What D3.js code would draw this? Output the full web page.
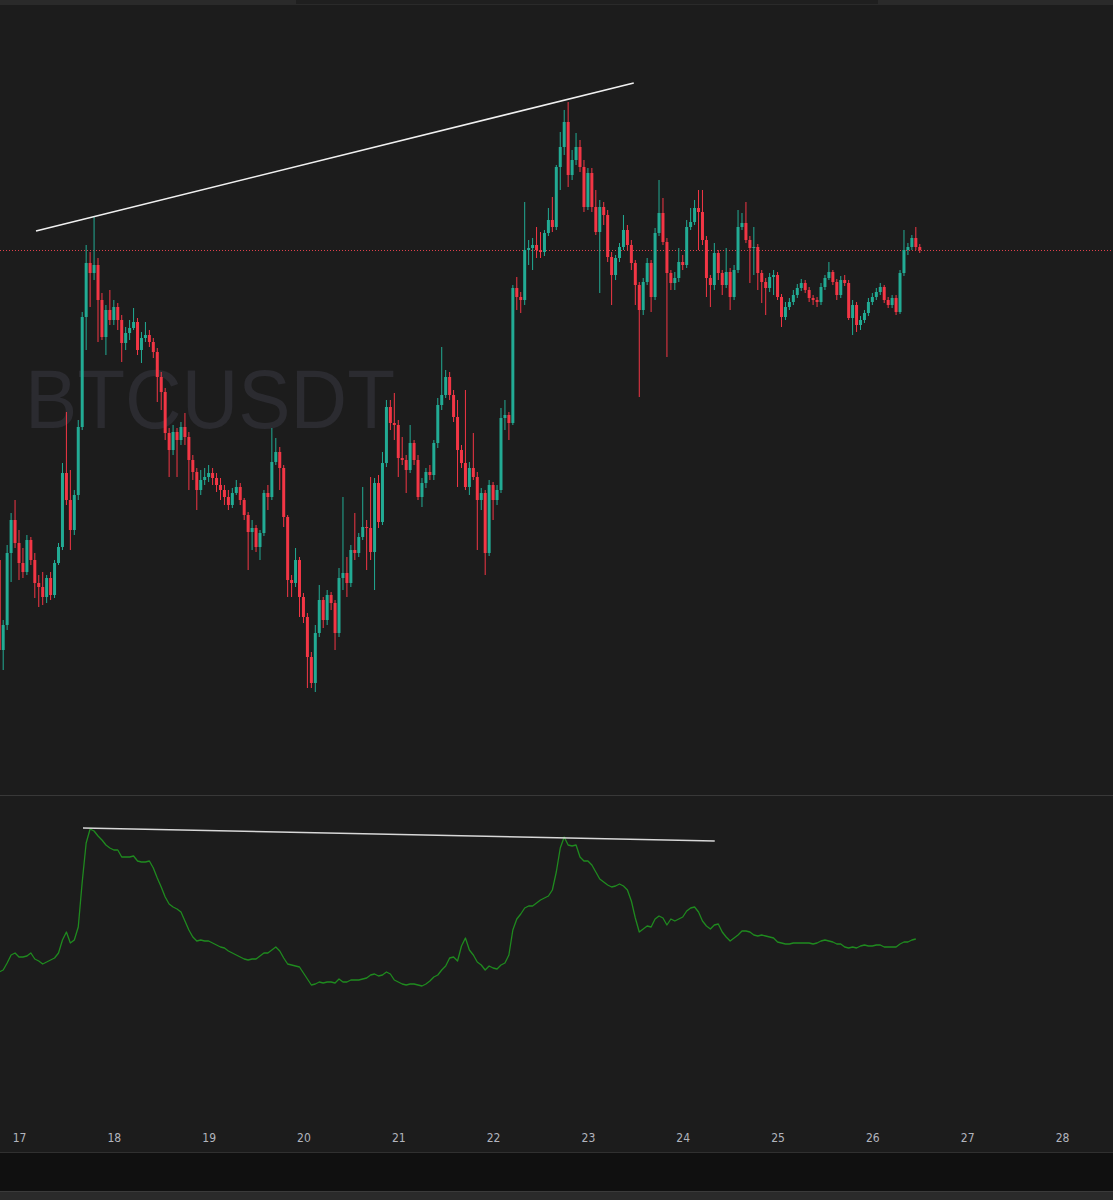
<!DOCTYPE html>
<html><head><meta charset="utf-8">
<script src="https://cdn.jsdelivr.net/npm/d3@7"></script>
<style>html,body{margin:0;padding:0;background:#1c1c1c;overflow:hidden}</style>
</head><body><svg id="c" width="1113" height="1200"></svg>
<script>
// ---------- DATA (hourly BTCUSDT candles, first bar 16th 19:00) ----------
const symbol = "BTCUSDT";
const firstBarTime = "2024-03-16T19:00:00Z";
const firstOpen = 64400;
const closes = [
63500,63750,64470,64800,64570,64370,64280,64600,64400,64170,
64130,64030,64220,64050,64370,64530,65270,65000,64700,65050,
65730,66830,67370,67270,67350,67000,66630,66900,66800,66930,
66800,66570,66670,66720,66780,66500,66620,66650,66580,66480,
66230,66080,65670,65500,65680,65600,65730,65630,65400,65280,
65100,65200,65230,65270,65220,65150,65100,65030,
64950,65070,65130,65000,64850,64680,64720,64530,64670,65070,
65030,65380,65480,65320,64830,64200,64170,64400,64030,63830,
63430,63170,63670,64000,63800,64050,63970,63670,64220,64270,
64170,64500,64470,64630,64730,64720,64480,65170,64780,65370,
65930,65770,65750,65420,65400,65300,65570,65400,65030,65170,
65280,65250,65570,65950,66050,66230,66050,65830,65500,65370,
65130,65320,65230,65000,65070,64470,65150,65000,65100,65820,
65850,65770,67120,67030,67000,67500,67520,67550,67500,67480,
67670,67800,67730,68330,68530,68780,68250,68400,68530,68330,
67930,68270,67930,67680,67930,67850,67430,67250,67420,67530,
67700,67550,67370,67150,66900,67180,67370,67030,67670,67870,
67580,67270,67170,67220,67380,67350,67730,67780,67920,67880,
67600,67220,67150,67470,67270,67150,67280,67030,67300,67730,
67770,67600,67520,67530,67270,67180,67120,67230,67250,67030,
66830,66930,66980,67050,67120,67170,67100,67020,67000,66980,
67130,67220,67280,67180,67050,67200,67170,66820,66950,66750,
66800,66870,66980,67030,67080,67130,67000,66950,67020,66880,
67270,67500,67530,67620,67530,67500];
const highs = [
64520,63800,64550,64870,65000,64700,64520,64650,64630,64470,
64250,64280,64250,64280,64400,64570,65370,65880,65300,65100,
65800,66880,67550,67480,67830,67420,67070,66950,67100,67000,
66970,66850,66730,66800,66920,66820,66680,66780,66700,66620,
66520,66280,66120,65720,65750,65720,65780,65870,65680,65450,
65320,65300,65320,65350,65320,65270,65220,65150,
65100,65120,65200,65170,65020,64880,64800,64750,64700,65100,
65150,65720,65620,65530,65350,64850,64250,64520,64430,64070,
63870,63480,63750,64150,64030,64100,64080,64000,64320,65030,
64430,64550,64870,64670,65130,64800,65230,65220,65250,65480,
66000,66000,66070,65800,65630,65450,65750,65600,65450,65220,
65320,65350,65600,66020,66530,66300,66280,66100,66000,65550,
66100,65380,65670,65280,65120,65100,65200,65180,65150,65920,
66000,65880,67150,67230,67080,67980,67600,67620,67730,67680,
67700,67920,68030,68350,68680,68900,68980,68500,68670,68600,
68400,68320,68320,68100,68000,67980,67900,67480,67450,67570,
67850,67750,67600,67400,67180,67220,67420,67400,67720,68200,
68020,67620,67300,67280,67520,67450,67800,67920,68000,68100,
68100,67640,67250,67570,67500,67300,67520,67320,67350,67900,
67870,67980,67640,67730,67560,67300,67220,67270,67300,67280,
67060,66980,67020,67100,67160,67210,67200,67130,67050,67030,
67170,67250,67380,67300,67210,67240,67250,67200,67000,66980,
66840,66900,67020,67070,67120,67170,67150,67030,67050,67050,
67300,67700,67570,67650,67730,67560];
const lows = [
63320,63300,63700,64180,64520,64200,64220,64250,64350,64020,
63930,63950,63970,64000,64020,64350,64500,64950,64500,64650,
65000,65700,66500,66930,67200,66580,66600,66450,66750,66750,
66700,66380,66500,66600,66700,66450,66370,66580,66530,66420,
65980,65900,65600,65230,65450,65230,65550,65550,65100,65200,
64900,65050,65150,65180,65150,65080,65000,64950,
64900,64920,65050,64950,64800,64300,64500,64480,64400,64640,
64900,65000,65350,65100,64730,64030,64030,64130,63830,63770,
63120,63120,63080,63630,63720,63750,63900,63500,63630,64100,
64030,64130,64400,64430,64600,64300,64400,64100,64720,64750,
65330,65700,65600,65230,65350,65070,65270,65350,65000,64930,
65120,65200,65200,65520,65900,66020,66000,65780,65130,65320,
65100,65050,65200,64500,64900,64250,64440,64800,64950,65070,
65700,65600,65750,66900,66870,66950,67350,67300,67420,67420,
67440,67640,67680,67700,68100,68450,68130,68200,68350,68280,
67880,67900,67880,67650,67070,67750,67380,66950,67200,67380,
67500,67500,67300,66950,66030,66850,67150,66880,67000,67640,
67550,66430,67100,67100,67180,67300,67320,67700,67750,67500,
67550,67030,66930,67100,67200,67050,67120,66900,67000,67270,
67700,67570,67170,67250,67100,66970,66850,67080,67050,67000,
66730,66800,66900,66950,67020,67090,67070,66980,66950,66930,
66950,67100,67200,67150,67000,67020,67140,66800,66650,66680,
66700,66770,66840,66950,67000,67050,66970,66920,66920,66850,
66860,67240,67450,67500,67500,67470];
// lower pane indicator, one value per bar (ends one bar before the last candle)
const indicator = [
28,30,37,45,47,43,43,44,47,41, 39,36,38,40,42,47,60,68,57,60,
73,118,157,171,169,164,160,155,152,150, 150,143,143,143,144,139,138,138,139,132,
122,113,103,96,93,91,88,79,70,63, 59,60,59,59,57,55,53,52,49,47,
45,43,41,40,41,41,44,47,47,50, 53,49,42,36,35,34,33,27,21,15,
16,18,17,18,18,17,21,18,18,20, 20,20,21,22,25,26,24,25,28,26,
20,18,16,15,16,16,15,14,16,19, 23,25,30,34,42,43,39,54,62,50,
45,38,35,30,34,32,31,35,37,45, 70,81,86,92,94,94,97,100,102,104,
110,128,152,163,155,154,155,143,139,139, 135,128,121,118,115,113,114,116,114,110,
99,82,68,71,74,73,81,84,82,75, 81,79,81,83,89,92,93,88,79,74,
71,75,76,68,63,59,62,65,69,69, 68,65,64,65,64,63,62,58,57,56,
56,57,57,57,57,57,56,57,59,60, 59,58,56,56,53,52,53,52,54,55,
54,54,55,55,53,53,53,53,56,58, 58,60,61];
const dayTicks = [17,18,19,20,21,22,23,24,25,26,27,28];
const priceTrend = [{t:"2024-03-17T04:18:00Z", v:67690},{t:"2024-03-23T11:36:00Z", v:69170}];
const indTrend = [{t:"2024-03-17T16:12:00Z", v:172},{t:"2024-03-24T08:06:00Z", v:159}];

// ---------- BUILD ----------
const HOUR = 3600e3;
const t0 = new Date(firstBarTime).getTime();
const bars = closes.map((c,i)=>{
  const o = i===0 ? firstOpen : closes[i-1];
  return {t:new Date(t0+i*HOUR), o, c, h:Math.max(highs[i],o,c), l:Math.min(lows[i],o,c)};
});
const indData = indicator.map((v,i)=>({t:new Date(t0+i*HOUR), v}));
const lastClose = closes[closes.length-1];

const W=1113, H=1200;
const svg = d3.select("#c");
const x = d3.scaleUtc().domain([Date.UTC(2024,2,17), Date.UTC(2024,2,28)]).range([19,1062]);
const y = d3.scaleLinear().domain([62000,70000]).range([800,0]);
const yi = d3.scaleLinear().domain([0,200]).range([1000,800]);

// backgrounds
svg.append("rect").attr("width",W).attr("height",H).attr("fill","#1c1c1c");
svg.append("rect").attr("x",0).attr("y",0).attr("width",W).attr("height",5).attr("fill","#2a2a2a");
svg.append("rect").attr("x",296).attr("y",0).attr("width",582).attr("height",4).attr("fill","#1f1f1f");
svg.append("line").attr("x1",0).attr("x2",W).attr("y1",795.5).attr("y2",795.5).attr("stroke","#383838");
svg.append("line").attr("x1",0).attr("x2",W).attr("y1",1152.5).attr("y2",1152.5).attr("stroke","#303030");
svg.append("rect").attr("x",0).attr("y",1153).attr("width",W).attr("height",38).attr("fill","#101010");
svg.append("rect").attr("x",0).attr("y",1191).attr("width",W).attr("height",9).attr("fill","#2a2a2a");
svg.append("line").attr("x1",0).attr("x2",W).attr("y1",1191.5).attr("y2",1191.5).attr("stroke","#3a3a3a");

const defs = svg.append("defs");
defs.append("clipPath").attr("id","mainClip").append("rect").attr("x",0).attr("y",5).attr("width",W).attr("height",790);
defs.append("clipPath").attr("id","subClip").append("rect").attr("x",0).attr("y",796).attr("width",W).attr("height",356);

const main = svg.append("g").attr("clip-path","url(#mainClip)");
main.append("text").text(symbol)
  .attr("x",25).attr("y",428).attr("textLength",370).attr("lengthAdjust","spacingAndGlyphs")
  .attr("font-family","'Liberation Sans', Arial, sans-serif").attr("font-size",84)
  .attr("fill","#2b2b30");

main.append("line").attr("x1",0).attr("x2",W)
  .attr("y1",Math.round(y(lastClose))+0.5).attr("y2",Math.round(y(lastClose))+0.5)
  .attr("stroke","#e0404c").attr("stroke-width",1).attr("stroke-dasharray","1,2");

const up="#22ab94", dn="#f23645";
const cg = main.append("g");
cg.selectAll("line.w").data(bars).join("line").attr("class","w")
  .attr("x1",d=>x(d.t)).attr("x2",d=>x(d.t)).attr("y1",d=>y(d.h)).attr("y2",d=>y(d.l))
  .attr("stroke",d=>d.c<d.o?dn:up).attr("stroke-width",1);
cg.selectAll("rect.b").data(bars).join("rect").attr("class","b")
  .attr("x",d=>x(d.t)-1.5).attr("width",3)
  .attr("y",d=>y(Math.max(d.o,d.c)))
  .attr("height",d=>Math.max(1,Math.abs(y(d.o)-y(d.c))))
  .attr("fill",d=>d.c<d.o?dn:up);

main.append("line")
  .attr("x1",x(new Date(priceTrend[0].t))).attr("y1",y(priceTrend[0].v))
  .attr("x2",x(new Date(priceTrend[1].t))).attr("y2",y(priceTrend[1].v))
  .attr("stroke","#f0f0f0").attr("stroke-width",1.6);

// lower pane
const sub = svg.append("g").attr("clip-path","url(#subClip)");
sub.append("path").datum(indData)
  .attr("d",d3.line().x(d=>x(d.t)).y(d=>yi(d.v)))
  .attr("fill","none").attr("stroke","#1f8a1f").attr("stroke-width",1.3).attr("stroke-linejoin","round");
sub.append("line")
  .attr("x1",x(new Date(indTrend[0].t))).attr("y1",yi(indTrend[0].v))
  .attr("x2",x(new Date(indTrend[1].t))).attr("y2",yi(indTrend[1].v))
  .attr("stroke","#d8d8d8").attr("stroke-width",1.6);

// time axis
const axis = d3.axisBottom(x)
  .tickValues(dayTicks.map(d=>new Date(Date.UTC(2024,2,d))))
  .tickFormat(d3.utcFormat("%-d")).tickSize(0).tickPadding(0);
const ag = svg.append("g").attr("transform","translate(0,1133)").call(axis);
ag.select(".domain").remove();
ag.selectAll("text").attr("fill","#b2b5be")
  .attr("font-family","'Liberation Sans Narrow','DejaVu Sans Condensed',sans-serif")
  .attr("font-size",12);
</script>
</body></html>
